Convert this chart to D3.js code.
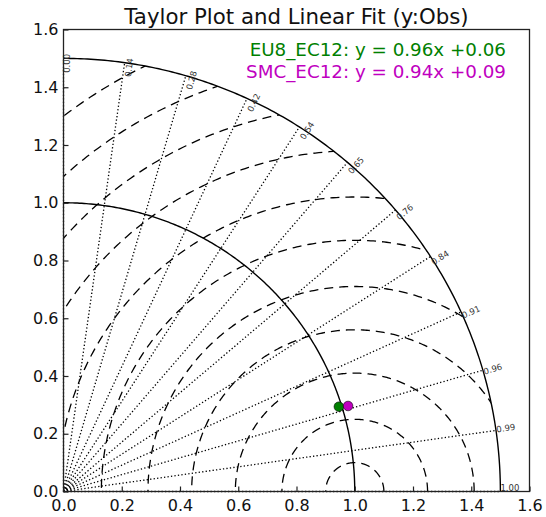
<!DOCTYPE html>
<html>
<head>
<meta charset="utf-8">
<script src="https://cdn.jsdelivr.net/npm/d3@7"></script>
<style>
  body { margin: 0; background: #fff; }
  text { font-family: "DejaVu Sans", sans-serif; }
</style>
</head>
<body>
<div id="chart"></div>
<script>
// Data
const chartTitle = "Taylor Plot and Linear Fit (y:Obs)";
const modelNames = ["EU8_EC12", "SMC_EC12"];
const modelColors = ["#008000", "#bf00bf"];
const fitSlopes = [0.96, 0.94];
const fitIntercepts = [0.06, 0.09];
const stdDevs = [0.990, 1.021];     // normalised standard deviation
const corrCoefs = [0.955, 0.957];   // correlation with obs
const refStd = 1.0;
const maxStd = 1.5;
const corrTicks = [0.00, 0.14, 0.28, 0.42, 0.54, 0.65, 0.76, 0.84, 0.91, 0.96, 0.99, 1.00];
const rmsLevels = [0.10, 0.25, 0.41, 0.56, 0.71, 0.87, 1.02, 1.18, 1.33, 1.48, 1.64];
const axisTicks = [0.0, 0.2, 0.4, 0.6, 0.8, 1.0, 1.2, 1.4, 1.6];

const margin = {top: 29.5, right: 16.5, bottom: 25.5, left: 63.5};
const width = 546 - margin.left - margin.right;
const height = 517 - margin.top - margin.bottom;

const root = d3.select("#chart")
    .append("svg")
    .attr("width", 546)
    .attr("height", 517);

const svg = root.append("g")
    .attr("transform", `translate(${margin.left},${margin.top})`);

// Scales
const x = d3.scaleLinear().domain([0, 1.6]).range([0, width]);
const y = d3.scaleLinear().domain([0, 1.6]).range([height, 0]);

const line = d3.line().x(d => x(d[0])).y(d => y(d[1]));

// points on a circle of radius r around (cx, 0), angles in radians
function circlePts(cx, r, a0, a1, n = 200) {
    return d3.range(n + 1).map(i => {
        const a = a0 + (a1 - a0) * i / n;
        return [cx + r * Math.cos(a), r * Math.sin(a)];
    });
}

// clip to the quarter disc of radius maxStd
const quarter = [[0, 0]].concat(circlePts(0, maxStd, 0, Math.PI / 2)).concat([[0, 0]]);
svg.append("clipPath")
    .attr("id", "quarter")
    .append("path")
    .attr("d", line(quarter));

// RMS difference contours (dashed), centred on the reference point
svg.append("g")
    .attr("clip-path", "url(#quarter)")
    .selectAll("path")
    .data(rmsLevels)
    .enter()
    .append("path")
    .attr("d", r => line(circlePts(refStd, r, 0, Math.PI, 300)))
    .attr("fill", "none")
    .attr("stroke", "#000")
    .attr("stroke-width", 1.3)
    .attr("stroke-dasharray", "9,6");

// correlation rays (dotted)
svg.append("g")
    .selectAll("path")
    .data(corrTicks)
    .enter()
    .append("path")
    .attr("d", c => {
        const t = Math.acos(c);
        return line([[0, 0], [maxStd * Math.cos(t), maxStd * Math.sin(t)]]);
    })
    .attr("fill", "none")
    .attr("stroke", "#000")
    .attr("stroke-width", 1.3)
    .attr("stroke-dasharray", "1.3,2.2");

// std arcs (solid)
svg.append("g")
    .selectAll("path")
    .data([refStd, maxStd])
    .enter()
    .append("path")
    .attr("d", r => line(circlePts(0, r, 0, Math.PI / 2)))
    .attr("fill", "none")
    .attr("stroke", "#000")
    .attr("stroke-width", 1.4);

// correlation labels along the outer arc
const labelSize = 8.5;
const labels = svg.append("g")
    .selectAll("text")
    .data(corrTicks)
    .enter()
    .append("text")
    .attr("font-size", labelSize)
    .attr("fill", "#333")
    .attr("dominant-baseline", "central")
    .text(c => c.toFixed(2));

labels.each(function(c) {
    const t = Math.acos(c);
    const s = Math.sin(t);
    const deg = t * 180 / Math.PI;
    const L = this.getComputedTextLength();
    const h = 0.73 * labelSize;
    const px = x(maxStd * Math.cos(t));
    const py = y(maxStd * Math.sin(t));
    const dy = -3.5 + 8.5 * s;
    d3.select(this).attr("transform",
        `translate(${px + h / 2 * s},${py + dy + L / 2 * s}) rotate(${-deg})`);
});

// model points
svg.append("g")
    .selectAll("circle")
    .data(stdDevs)
    .enter()
    .append("circle")
    .attr("cx", (s, i) => x(s * corrCoefs[i]))
    .attr("cy", (s, i) => y(s * Math.sin(Math.acos(corrCoefs[i]))))
    .attr("r", 4.8)
    .attr("fill", (s, i) => modelColors[i])
    .attr("stroke", "#000")
    .attr("stroke-width", 0.6);

// frame
svg.append("rect")
    .attr("width", width)
    .attr("height", height)
    .attr("fill", "none")
    .attr("stroke", "#222")
    .attr("stroke-width", 1.3);

// axes, ticks pointing inward
const xAxis = svg.append("g")
    .attr("transform", `translate(0,${height})`)
    .call(d3.axisBottom(x).tickValues(axisTicks).tickFormat(d3.format(".1f"))
        .tickSizeInner(-5).tickSizeOuter(0).tickPadding(8));
const yAxis = svg.append("g")
    .call(d3.axisLeft(y).tickValues(axisTicks).tickFormat(d3.format(".1f"))
        .tickSizeInner(-5).tickSizeOuter(0).tickPadding(5));

[xAxis, yAxis].forEach(a => {
    a.attr("font-family", null).attr("font-size", 16);
    a.select(".domain").remove();
    a.selectAll("line").attr("stroke", "#222").attr("stroke-width", 1.2);
    a.selectAll("text").attr("fill", "#111");
});

// title
root.append("text")
    .attr("x", margin.left + width / 2)
    .attr("y", 24)
    .attr("text-anchor", "middle")
    .attr("font-size", 21.3)
    .attr("fill", "#111")
    .text(chartTitle);

// fit equations
root.append("g")
    .selectAll("text")
    .data(modelNames)
    .enter()
    .append("text")
    .attr("x", 506)
    .attr("y", (d, i) => 55.5 + i * 22.5)
    .attr("text-anchor", "end")
    .attr("font-size", 18.3)
    .attr("fill", (d, i) => modelColors[i])
    .text((d, i) => `${d}: y = ${fitSlopes[i].toFixed(2)}x +${fitIntercepts[i].toFixed(2)}`);
</script>
</body>
</html>
